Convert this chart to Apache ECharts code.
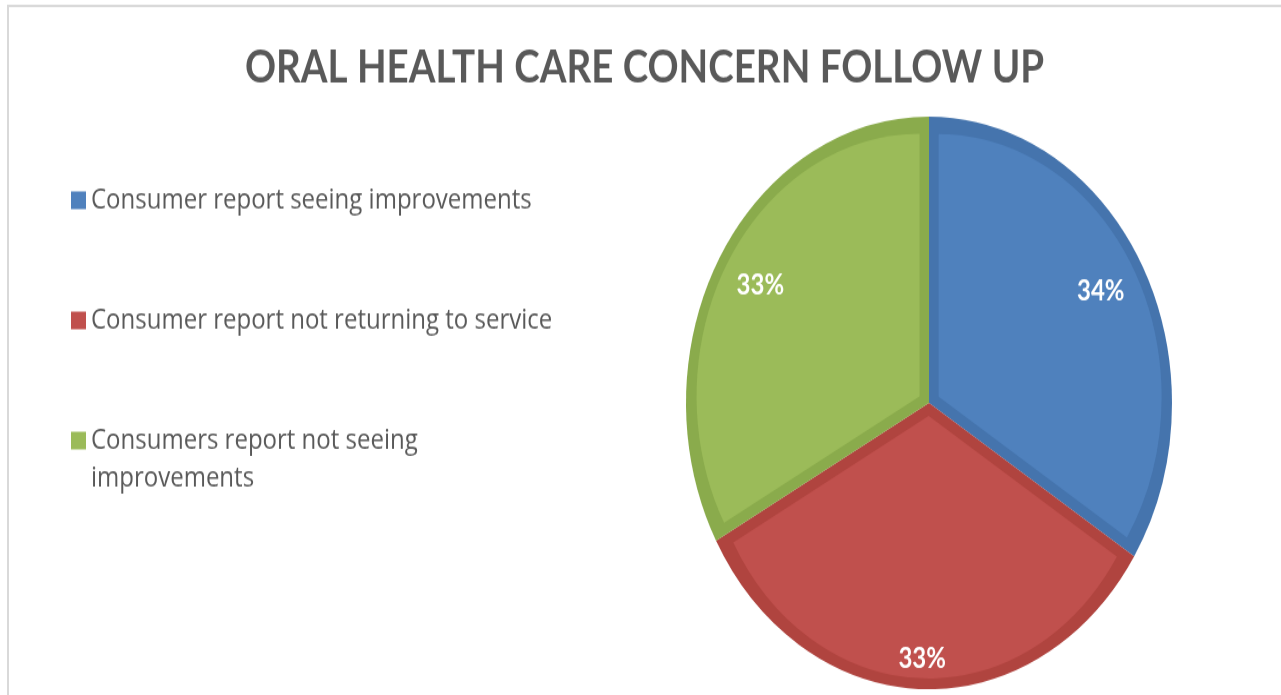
<!DOCTYPE html>
<html>
<head>
<meta charset="utf-8">
<title>Oral Health Care Concern Follow Up</title>
<script src="https://cdn.jsdelivr.net/npm/echarts@6/dist/echarts.min.js"></script>
<style>
  html, body { margin: 0; padding: 0; background: #ffffff; }
  #page { width: 1281px; height: 695px; position: relative; overflow: hidden; }
  /* The chart is laid out at a shorter height and stretched vertically,
     which turns the pie into a tall ellipse and gives the condensed lettering. */
  #chart { position: absolute; left: 0; top: 0; width: 1281px; height: 590px;
           transform: scaleY(1.178); transform-origin: 0 0; }
</style>
</head>
<body>
<div id="page"><div id="chart"></div></div>
<script>
// Follow-up responses (percent of consumers)
const categories = [
  'Consumer report seeing improvements',
  'Consumer report not returning to service',
  'Consumers report not seeing improvements'
];
const values = [34, 33, 33];
const chartTitle = 'ORAL HEALTH CARE CONCERN FOLLOW UP';

// Slice colours: face fill and the darker bevel rim
const faceColors = ['#4f81bd', '#c0504d', '#9bbb59'];
const rimColors = ['#4574ad', '#b0443f', '#8aab4c'];

const CENTER = [929, 342];
const textGray = '#595959';

// Darker full-size sectors form the rim of each slice
const rimSeries = {
  type: 'pie',
  z: 1,
  center: CENTER,
  radius: 243,
  startAngle: 90,
  clockwise: true,
  silent: true,
  animation: false,
  label: { show: false },
  labelLine: { show: false },
  emphasis: { disabled: true },
  data: categories.map((name, i) => ({
    name, value: values[i],
    itemStyle: { color: rimColors[i], borderWidth: 0 }
  }))
};

// Lighter faces, pushed out along each bisector so a rim shows on every edge
const faceSeries = {
  type: 'pie',
  z: 2,
  center: CENTER,
  radius: 223,
  startAngle: 90,
  clockwise: true,
  silent: true,
  animation: false,
  selectedMode: 'multiple',
  selectedOffset: 11,
  label: { show: false },
  labelLine: { show: false },
  emphasis: { disabled: true },
  select: { itemStyle: { borderWidth: 0 } },
  data: categories.map((name, i) => ({
    name, value: values[i], selected: true,
    itemStyle: { color: faceColors[i], borderWidth: 0 },
    select: { itemStyle: { color: faceColors[i], borderWidth: 0 } }
  }))
};

// Percentage labels, placed towards the outer part of each slice
function labelRing(radius, shown) {
  return {
    type: 'pie',
    z: 3,
    center: CENTER,
    radius: radius,
    startAngle: 90,
    clockwise: true,
    silent: true,
    animation: false,
    percentPrecision: 0,
    labelLine: { show: false },
    emphasis: { disabled: true },
    itemStyle: { color: 'rgba(0,0,0,0)', borderWidth: 0 },
    label: {
      position: 'inside',
      formatter: '{d}%',
      color: '#ffffff',
      fontFamily: 'Lato',
      fontWeight: 'bold',
      fontSize: 24
    },
    data: categories.map((name, i) => ({
      name, value: values[i],
      label: { show: shown.indexOf(i) >= 0 }
    }))
  };
}

// Shared legend look. The wrapping entry sits in its own block with an
// empty leading line, so its marker lines up with the first text line.
const legendText = {
  fontFamily: 'Open Sans',
  fontSize: 24,
  lineHeight: 32,
  color: textGray,
  width: 470,
  overflow: 'break'
};
function legendBlock(names, top, formatter) {
  const block = {
    orient: 'vertical',
    left: 66,
    top: top,
    itemGap: 70,
    itemWidth: 15,
    itemHeight: 15,
    icon: 'rect',
    selectedMode: false,
    itemStyle: { borderWidth: 0 },
    textStyle: legendText,
    data: names
  };
  if (formatter) block.formatter = formatter;
  return block;
}

const option = {
  animation: false,
  backgroundColor: '#ffffff',
  title: {
    text: chartTitle,
    left: 240,
    top: 33,
    textStyle: {
      fontFamily: 'Lato',
      fontWeight: 'bold',
      fontSize: 38.5,
      color: textGray
    }
  },
  legend: [
    legendBlock(categories.slice(0, 2), 149),
    legendBlock(categories.slice(2), 321, name => '\n' + name)
  ],
  graphic: [{
    type: 'rect',
    silent: true,
    shape: { x: 8, y: 5, width: 1300, height: 700 },
    style: { fill: 'none', stroke: '#d9d9d9', lineWidth: 2 }
  }],
  series: [
    faceSeries,
    rimSeries,
    labelRing([150, 236], [0, 2]),
    labelRing([192, 236], [1])
  ]
};

const chart = echarts.init(document.getElementById('chart'), null, { renderer: 'canvas' });
chart.setOption(option);
</script>
</body>
</html>
